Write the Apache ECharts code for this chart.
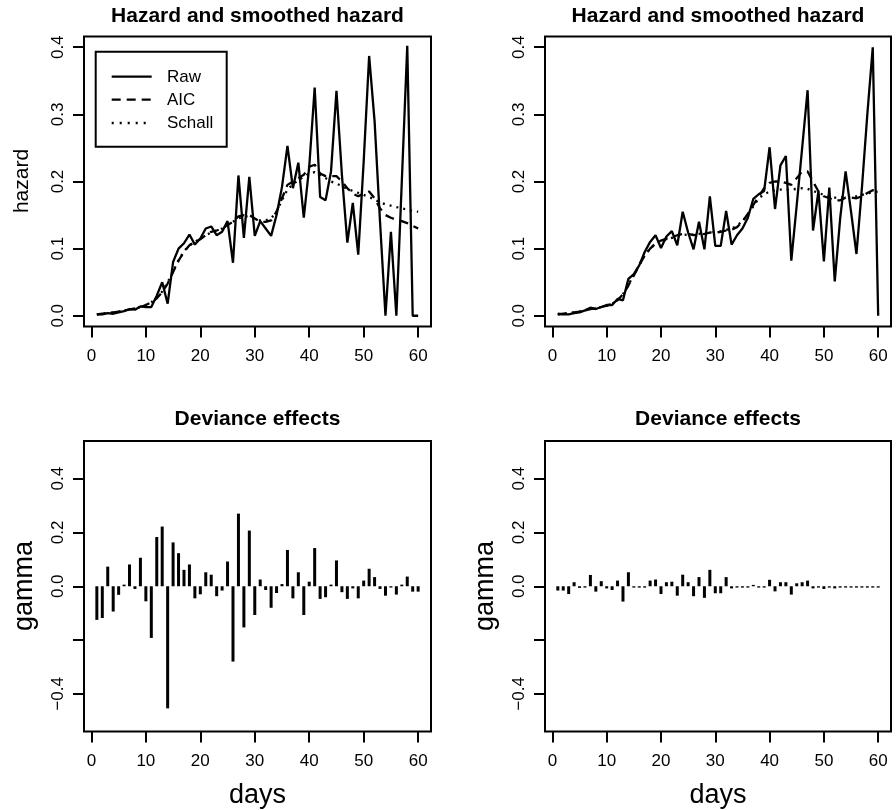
<!DOCTYPE html>
<html>
<head>
<meta charset="utf-8">
<script src="https://cdn.jsdelivr.net/npm/echarts@6/dist/echarts.min.js"></script>
<style>
  html, body { margin: 0; padding: 0; background: #fff; }
  #chart { width: 896px; height: 810px; }
</style>
</head>
<body>
<div id="chart"></div>
<script>
// days 1..60
var days = [];
for (var d = 1; d <= 60; d++) days.push(d);

// left: hazard, raw and smoothed
var rawLeft = [0.002, 0.002, 0.004, 0.003, 0.005, 0.007, 0.010, 0.009, 0.014, 0.013,
  0.013, 0.030, 0.050, 0.018, 0.080, 0.100, 0.108, 0.121, 0.106, 0.115,
  0.130, 0.133, 0.120, 0.125, 0.141, 0.079, 0.209, 0.116, 0.207, 0.119,
  0.141, 0.130, 0.119, 0.150, 0.192, 0.253, 0.190, 0.228, 0.146, 0.222,
  0.340, 0.177, 0.172, 0.215, 0.335, 0.210, 0.109, 0.168, 0.091, 0.230,
  0.387, 0.290, 0.140, 0.000, 0.125, 0.000, 0.200, 0.402, 0.000, 0.000];
var aicLeft = [0.002, 0.003, 0.004, 0.005, 0.006, 0.008, 0.009, 0.011, 0.013, 0.016,
  0.020, 0.026, 0.035, 0.048, 0.065, 0.082, 0.095, 0.105, 0.110, 0.114,
  0.120, 0.125, 0.127, 0.130, 0.135, 0.140, 0.148, 0.150, 0.150, 0.145,
  0.140, 0.140, 0.142, 0.155, 0.175, 0.195, 0.200, 0.205, 0.210, 0.222,
  0.225, 0.212, 0.208, 0.208, 0.208, 0.200, 0.190, 0.182, 0.178, 0.182,
  0.185, 0.175, 0.160, 0.150, 0.146, 0.143, 0.141, 0.138, 0.134, 0.130];
var schallLeft = [0.002, 0.003, 0.004, 0.005, 0.006, 0.008, 0.009, 0.011, 0.013, 0.016,
  0.020, 0.027, 0.036, 0.050, 0.066, 0.083, 0.096, 0.105, 0.110, 0.115,
  0.120, 0.124, 0.127, 0.130, 0.135, 0.140, 0.145, 0.148, 0.148, 0.145,
  0.142, 0.142, 0.145, 0.155, 0.172, 0.188, 0.196, 0.202, 0.207, 0.212,
  0.214, 0.210, 0.205, 0.200, 0.197, 0.193, 0.189, 0.186, 0.183, 0.180,
  0.177, 0.173, 0.169, 0.166, 0.164, 0.162, 0.160, 0.158, 0.156, 0.155];

// right: hazard, raw and smoothed
var rawRight = [0.003, 0.002, 0.002, 0.004, 0.005, 0.008, 0.012, 0.010, 0.013, 0.016,
  0.016, 0.025, 0.023, 0.055, 0.062, 0.075, 0.095, 0.110, 0.120, 0.101,
  0.118, 0.126, 0.105, 0.155, 0.124, 0.099, 0.140, 0.099, 0.178, 0.104,
  0.104, 0.156, 0.106, 0.120, 0.130, 0.146, 0.174, 0.181, 0.186, 0.251,
  0.159, 0.224, 0.238, 0.082, 0.165, 0.250, 0.336, 0.127, 0.186, 0.081,
  0.191, 0.051, 0.145, 0.215, 0.155, 0.092, 0.190, 0.300, 0.400, 0.000];
var aicRight = [0.002, 0.003, 0.004, 0.005, 0.006, 0.008, 0.010, 0.011, 0.013, 0.015,
  0.018, 0.023, 0.032, 0.045, 0.060, 0.075, 0.090, 0.100, 0.108, 0.112,
  0.115, 0.117, 0.120, 0.122, 0.122, 0.120, 0.121, 0.122, 0.124, 0.124,
  0.125, 0.127, 0.128, 0.132, 0.140, 0.152, 0.165, 0.178, 0.190, 0.198,
  0.200, 0.200, 0.198, 0.195, 0.205, 0.215, 0.215, 0.200, 0.185, 0.178,
  0.175, 0.172, 0.172, 0.176, 0.176, 0.175, 0.178, 0.183, 0.187, 0.187];
var schallRight = [0.002, 0.003, 0.004, 0.005, 0.006, 0.008, 0.010, 0.011, 0.013, 0.015,
  0.018, 0.023, 0.032, 0.046, 0.061, 0.076, 0.090, 0.100, 0.107, 0.111,
  0.114, 0.116, 0.118, 0.120, 0.121, 0.121, 0.122, 0.123, 0.124, 0.125,
  0.126, 0.128, 0.130, 0.134, 0.141, 0.151, 0.163, 0.175, 0.181, 0.185,
  0.187, 0.188, 0.188, 0.188, 0.189, 0.190, 0.189, 0.186, 0.183, 0.180,
  0.178, 0.176, 0.176, 0.177, 0.177, 0.178, 0.180, 0.182, 0.184, 0.185];

// deviance effects (gamma)
var gammaLeft = [-0.125, -0.118, 0.073, -0.094, -0.032, 0.006, 0.081, -0.010, 0.106, -0.056,
  -0.192, 0.183, 0.222, -0.454, 0.163, 0.123, 0.061, 0.081, -0.045, -0.030,
  0.052, 0.043, -0.037, -0.016, 0.092, -0.280, 0.270, -0.153, 0.207, -0.107,
  0.025, -0.014, -0.080, -0.025, 0.008, 0.135, -0.045, 0.052, -0.107, 0.017,
  0.142, -0.047, -0.041, 0.006, 0.096, -0.022, -0.047, -0.008, -0.045, 0.021,
  0.065, 0.034, -0.010, -0.035, -0.005, -0.031, 0.006, 0.036, -0.020, -0.020];
var gammaRight = [-0.016, -0.016, -0.029, 0.015, -0.006, -0.005, 0.042, -0.020, 0.019, -0.008,
  -0.014, 0.021, -0.057, 0.052, -0.005, -0.005, -0.005, 0.021, 0.025, -0.029,
  0.015, 0.017, -0.035, 0.043, 0.015, -0.037, 0.034, -0.043, 0.061, -0.026,
  -0.026, 0.034, -0.008, -0.005, -0.005, -0.005, 0.005, -0.005, -0.005, 0.024,
  -0.019, 0.015, 0.015, -0.031, 0.011, 0.015, 0.021, -0.008, -0.005, -0.010,
  -0.005, -0.008, -0.005, -0.005, -0.005, -0.005, -0.005, -0.005, -0.005, -0.005];

var xTicks = [0, 10, 20, 30, 40, 50, 60];
var hazardTicks = [0, 0.1, 0.2, 0.3, 0.4];
var gammaTicks = [-0.4, -0.2, 0, 0.2, 0.4];
var gammaLabels = [-0.4, 0, 0.2, 0.4];

var FONT = '"Liberation Sans", Arial, Helvetica, sans-serif';

function pairs(vals) {
  return days.map(function (d, i) { return [d, vals[i]]; });
}
function fmt(v) {
  return v < 0 ? '\u2212' + Math.abs(v).toFixed(1) : v.toFixed(1);
}

var grids = [
  { left: 84, top: 36.5, width: 347, height: 290 },
  { left: 545, top: 36.5, width: 346, height: 290 },
  { left: 84, top: 441, width: 347, height: 290.5 },
  { left: 545, top: 441, width: 346, height: 290.5 }
];

var xAxes = grids.map(function (g, i) {
  return {
    gridIndex: i, type: 'value', min: -1.36, max: 62.36,
    splitLine: { show: false },
    axisLine: { show: false, onZero: false },
    axisTick: { show: true, length: 11, lineStyle: { color: '#000', width: 2 }, customValues: xTicks },
    axisLabel: { customValues: xTicks, margin: 21, fontSize: 17, color: '#000', fontFamily: FONT }
  };
});

var yAxes = grids.map(function (g, i) {
  var top = i < 2;
  return {
    gridIndex: i, type: 'value',
    min: top ? -0.016 : -0.54, max: top ? 0.416 : 0.54,
    splitLine: { show: false },
    axisLine: { show: false, onZero: false },
    axisTick: { show: true, length: 11, lineStyle: { color: '#000', width: 2 }, customValues: top ? hazardTicks : gammaTicks },
    axisLabel: { customValues: top ? hazardTicks : gammaLabels, rotate: 90, margin: 17, fontSize: 17, color: '#000', fontFamily: FONT, formatter: fmt }
  };
});

function lineSeries(idx, vals, type) {
  return {
    type: 'line', xAxisIndex: idx, yAxisIndex: idx, data: pairs(vals),
    symbol: 'none', silent: true,
    lineStyle: { color: '#000', width: 2.3, type: type }
  };
}
function barSeries(idx, vals) {
  return {
    type: 'bar', xAxisIndex: idx, yAxisIndex: idx, data: pairs(vals),
    barWidth: 3, silent: true, itemStyle: { color: '#000' }
  };
}

function txt(x, y, s, font, rot) {
  return {
    type: 'text', x: x, y: y, rotation: rot || 0, silent: true,
    style: { text: s, font: font, fill: '#000', align: 'center', verticalAlign: 'middle' }
  };
}

var graphics = [
  txt(257.5, 16, 'Hazard and smoothed hazard', 'bold 21px ' + FONT),
  txt(718, 16, 'Hazard and smoothed hazard', 'bold 21px ' + FONT),
  txt(257.5, 419, 'Deviance effects', 'bold 21px ' + FONT),
  txt(718, 419, 'Deviance effects', 'bold 21px ' + FONT),
  txt(22, 181, 'hazard', '21px ' + FONT, Math.PI / 2),
  txt(25, 586, 'gamma', '27px ' + FONT, Math.PI / 2),
  txt(486, 586, 'gamma', '27px ' + FONT, Math.PI / 2),
  txt(257.5, 796, 'days', '27px ' + FONT),
  txt(718, 796, 'days', '27px ' + FONT),
  // legend
  { type: 'rect', shape: { x: 95.7, y: 51.7, width: 131, height: 95 }, silent: true,
    style: { fill: '#fff', stroke: '#000', lineWidth: 2 } },
  { type: 'line', shape: { x1: 111.7, y1: 76.7, x2: 151.7, y2: 76.7 }, silent: true,
    style: { stroke: '#000', lineWidth: 2.3 } },
  { type: 'line', shape: { x1: 111.7, y1: 99.7, x2: 151.7, y2: 99.7 }, silent: true,
    style: { stroke: '#000', lineWidth: 2.3, lineDash: [9, 6] } },
  { type: 'line', shape: { x1: 111.7, y1: 123, x2: 151.7, y2: 123 }, silent: true,
    style: { stroke: '#000', lineWidth: 2.3, lineDash: [2, 6] } },
  { type: 'text', x: 167, y: 77, silent: true, style: { text: 'Raw', font: '17px ' + FONT, fill: '#000', verticalAlign: 'middle' } },
  { type: 'text', x: 167, y: 100, silent: true, style: { text: 'AIC', font: '17px ' + FONT, fill: '#000', verticalAlign: 'middle' } },
  { type: 'text', x: 167, y: 123.5, silent: true, style: { text: 'Schall', font: '17px ' + FONT, fill: '#000', verticalAlign: 'middle' } }
];

var chart = echarts.init(document.getElementById('chart'), null, { renderer: 'canvas' });
chart.setOption({
  animation: false,
  backgroundColor: '#fff',
  grid: grids.map(function (g) {
    return Object.assign({ show: true, borderColor: '#000', borderWidth: 2, backgroundColor: 'transparent' }, g);
  }),
  xAxis: xAxes,
  yAxis: yAxes,
  series: [
    lineSeries(0, schallLeft, [2, 5]),
    lineSeries(0, aicLeft, [9, 6]),
    lineSeries(0, rawLeft, 'solid'),
    lineSeries(1, schallRight, [2, 5]),
    lineSeries(1, aicRight, [9, 6]),
    lineSeries(1, rawRight, 'solid'),
    barSeries(2, gammaLeft),
    barSeries(3, gammaRight)
  ],
  graphic: graphics
});
</script>
</body>
</html>
